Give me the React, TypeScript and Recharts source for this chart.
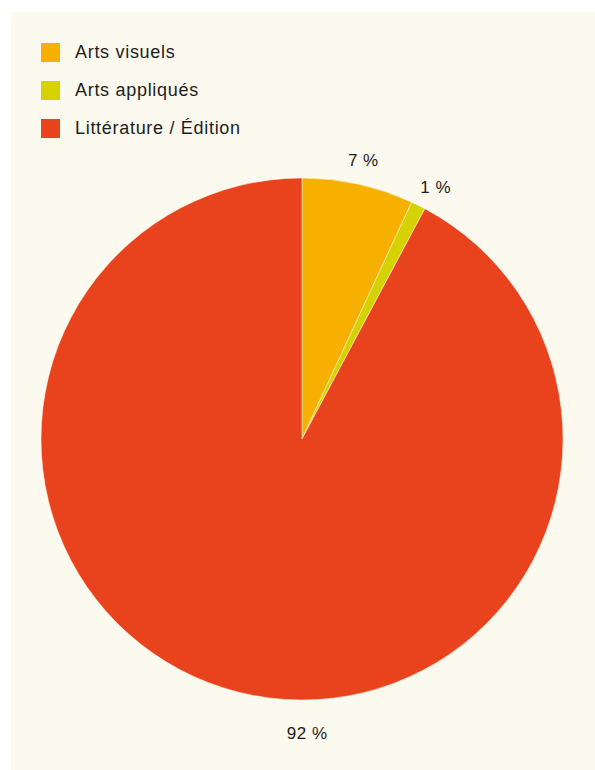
import React from "react";
import { PieChart, Pie, Cell } from "recharts";

const categories = ["Arts visuels", "Arts appliqués", "Littérature / Édition"];
const values = [6.9, 0.9, 92.2];
const valueLabels = ["7 %", "1 %", "92 %"];
const colors = ["#F8B000", "#D5D200", "#E8431C"];

const data = categories.map((name, i) => ({ name, value: values[i], label: valueLabels[i] }));

const BG = "#FCF9EE";
const TEXT = "#1d1d1b";
const FONT = "'Liberation Sans', Arial, Helvetica, sans-serif";
const RAD = Math.PI / 180;

const renderLabel = (props: any) => {
  const { cx, cy, midAngle, outerRadius, index, percent } = props;
  const big = percent > 0.5;
  const angle = big ? -89 : midAngle + (percent < 0.02 ? -1.5 : 0);
  const r = outerRadius + (big ? 34 : 24);
  const x = cx + r * Math.cos(-angle * RAD);
  const y = cy + r * Math.sin(-angle * RAD);
  return (
    <text
      x={x}
      y={y}
      textAnchor="middle"
      dominantBaseline="central"
      fill={TEXT}
      fontSize={17}
      fontFamily={FONT}
      letterSpacing={0.5}
    >
      {data[index].label}
    </text>
  );
};

const LegendBox = () => (
  <div style={{ position: "absolute", left: 30, top: 21, fontFamily: FONT, zIndex: 2 }}>
    {data.map((d, i) => (
      <div key={d.name} style={{ display: "flex", alignItems: "center", height: 38 }}>
        <div style={{ width: 19, height: 19, background: colors[i], marginRight: 15 }} />
        <span style={{ fontSize: 18, letterSpacing: 0.7, color: TEXT }}>{d.name}</span>
      </div>
    ))}
  </div>
);

export default function App() {
  return (
    <div
      style={{
        position: "absolute",
        left: 11,
        top: 12,
        width: 584,
        height: 758,
        background: BG,
      }}
    >
      <LegendBox />
      <PieChart width={584} height={758} margin={{ top: 0, right: 0, bottom: 0, left: 0 }}>
        <Pie
          data={data}
          dataKey="value"
          nameKey="name"
          cx={291}
          cy={427}
          outerRadius={261}
          startAngle={90}
          endAngle={-270}
          stroke={BG}
          strokeWidth={0.5}
          label={renderLabel}
          labelLine={false}
          isAnimationActive={false}
        >
          {data.map((d, i) => (
            <Cell key={d.name} fill={colors[i]} />
          ))}
        </Pie>
      </PieChart>
    </div>
  );
}
